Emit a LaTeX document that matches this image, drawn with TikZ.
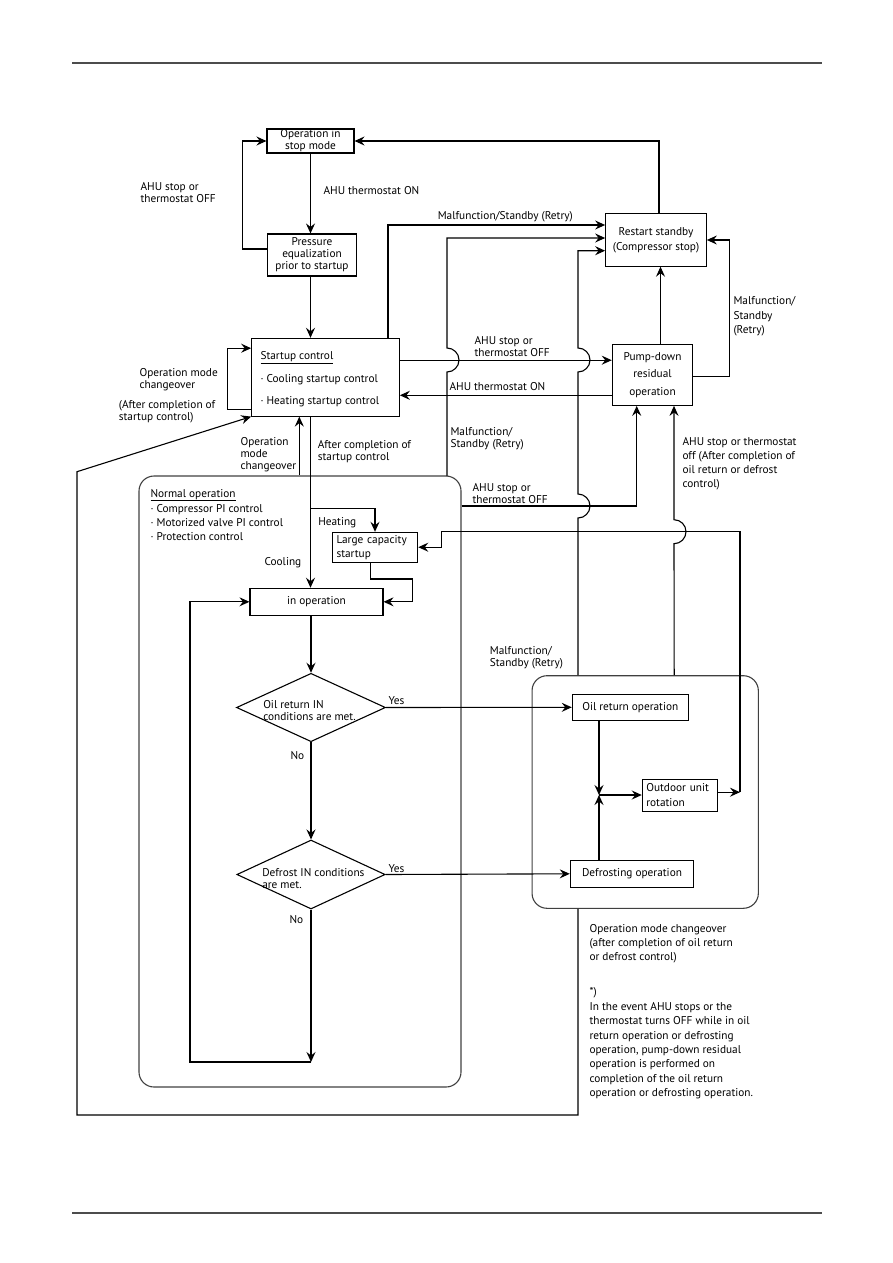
\documentclass[tikz,border=0pt]{standalone}
\usepackage{fontspec}
\setmainfont{PT Sans}
\usetikzlibrary{arrows.meta,shapes.geometric}

\begin{document}
\begin{tikzpicture}[x=1pt, y=-1pt, line width=1.1pt,
  every node/.style={font=\fontsize{11.3}{12}\selectfont, inner sep=0pt},
  box/.style={draw, rectangle, align=center},
  decision/.style={draw, diamond},
  group/.style={draw=black!75, rounded corners=15pt},
  arr/.style={-{Stealth[length=10pt, width=9pt, inset=3.5pt]}},
  lab/.style={align=left, anchor=west}]
\useasboundingbox (0,0) rectangle (893,1263);
\draw[black!70, line width=1.3pt] (72,63) -- (822,63);
\draw[black!70, line width=1.3pt] (72,1213) -- (822,1213);

\node[group, minimum width=322pt, minimum height=611pt] (norm) at (300,781.5) {};
\node[group, minimum width=226.3pt, minimum height=232.6pt] (ret) at (645.2,792) {};

\node[box, minimum width=87pt, minimum height=24pt] (stop) at (310.5,141) {Operation in\\stop mode};
\node[box, minimum width=88.4pt, minimum height=42pt] (pre) at (312,255) {Pressure\\equalization\\prior to startup};
\node[box, minimum width=100.6pt, minimum height=52.3pt] (restart) at (656,240) {Restart standby\\[3pt](Compressor stop)};
\node[box, minimum width=147.6pt, minimum height=77.7pt] (start) at (325.5,377.2) {};
\node[lab] (starttxt) at (260,379) {\underline{Startup control}\\[10pt]· Cooling startup control\\[10pt]· Heating startup control};
\node[box, minimum width=80.4pt, minimum height=61pt] (pump) at (652.5,374.8) {Pump-down\\[5.5pt]residual\\[5.5pt]operation};
\node[box, align=left, text width=77pt, inner xsep=4.2pt, minimum height=29.7pt] (large) at (375,547.2) {Large capacity\\[2pt]startup};
\node[box, minimum width=133pt, minimum height=27pt] (inop) at (316.5,601.8) {in operation};
\node[decision, minimum width=149pt, minimum height=68.4pt] (d1) at (311,707.5) {};
\node[lab] (d1txt) at (262.7,710.8) {Oil return IN\\conditions are met.};
\node[decision, minimum width=148.3pt, minimum height=69pt] (d2) at (311,874.5) {};
\node[lab] (d2txt) at (261.7,878.2) {Defrost IN conditions\\are met.};
\node[box, minimum width=116pt, minimum height=26pt] (oilr) at (630.3,707.3) {Oil return operation};
\node[box, minimum width=123.4pt, minimum height=27pt] (defr) at (632,873.8) {Defrosting operation};
\node[box, align=left, text width=67pt, inner xsep=4pt, minimum height=31.7pt] (outd) at (679.8,795.2) {Outdoor unit\\[2.5pt]rotation};

\coordinate (split) at (310.5,508.3);
\coordinate (jn) at (599,795);
\coordinate (rot) at (740,792.2);
\coordinate (loopend) at (311,1062);

\draw[arr] (stop.south) -- (stop.south |- pre.north);
\draw[arr] ([yshift=6pt]pre.west) -- ++(-25,0) |- (stop.west);
\draw[arr] (stop.south |- pre.south) -- (stop.south |- start.north);
\draw[arr] ([xshift=3pt]restart.north) |- (stop.east);
\draw[arr] ([xshift=62.5pt]start.north) |- ([yshift=15pt]restart.west);
\draw[arr] (447,476) -- (447,372) arc (90:-90:12) |- ([yshift=2pt]restart.west);
\draw[arr] ([xshift=-67.2pt]ret.north) -- (578,518) arc (90:-90:12) -- (578,372) arc (90:-90:12) |- ([yshift=-10.7pt]restart.west);
\draw[arr] ([yshift=17pt]start.east) -- ([yshift=17pt]start.east -| pump.west);
\draw[arr] ([yshift=-20.5pt]pump.west) -- ([yshift=-20.5pt]pump.west -| start.east);
\draw[arr] ([xshift=8pt]pump.north) -- ([xshift=8pt]pump.north |- restart.south);
\draw[arr] ([yshift=-2pt]pump.east) -- ++(36.6,0) |- (restart.east);
\draw[arr] ([yshift=-32pt]start.west) -- ++(-23.4,0) |- ([yshift=29pt]start.west);
\draw[arr] ([xshift=-0.7pt]norm.north) -- ([xshift=-26.2pt]start.south);
\draw[arr] ([xshift=-15pt]start.south) -- ([xshift=-6pt]inop.north);
\draw[arr] (split) -| (large.north);
\draw[arr] ([xshift=-4.3pt]large.south) |- (412.3,579) |- (inop.east);
\draw[arr] ([yshift=275.5pt]norm.east) -| ([xshift=-15.8pt]pump.south);
\draw[arr] ([xshift=29pt]ret.north) -- (674,543.7) arc (90:-90:12) -- ([xshift=21.5pt]pump.south);
\draw[arr] ([yshift=3pt]outd.east) -- (rot);
\draw[arr] (rot) |- (441.7,531.7) |- (large.east);
\draw[arr] (d1.north |- inop.south) -- (d1.north);
\draw[arr] (d1.east) -- (oilr.west);
\draw[arr] (d1.south) -- (d2.north);
\draw[arr] (d2.east) -- (defr.west);
\draw[arr] (d2.south) -- (loopend);
\draw[arr] (loopend) -- (190,1062) |- (inop.west);
\draw[arr] ([xshift=-31.3pt]oilr.south) -- (jn);
\draw[arr] ([xshift=-33pt]defr.north) -- (jn);
\draw[arr] (jn) -- (jn -| outd.west);
\draw[arr] ([xshift=-67.2pt]ret.south) |- (77,1115) -- (77,471.7) -- (start.south west);

\node[lab] (l1) at (323,190.7) {AHU thermostat ON};
\node[lab] (l2) at (140,193) {AHU stop or\\thermostat OFF};
\node (l3) at (505.3,216.7) {Malfunction/Standby (Retry)};
\node[lab] (l4) at (474,346.5) {AHU stop or\\thermostat OFF};
\node[lab] (l5) at (449,386.7) {AHU thermostat ON};
\node[lab] (l6) at (733,316.5) {Malfunction/\\[2.5pt]Standby\\[2.5pt](Retry)};
\node[lab] (l7) at (139,379.5) {Operation mode\\changeover};
\node[lab] (l8) at (118.3,412) {(After completion of\\startup control)};
\node[lab] (l9) at (450,438.3) {Malfunction/\\Standby (Retry)};
\node[lab] (l10) at (682,463.4) {AHU stop or thermostat\\[2pt]off (After completion of\\[2pt]oil return or defrost\\[2pt]control)};
\node[lab] (l11) at (240,454.7) {Operation\\mode\\changeover};
\node[lab] (l12) at (317.3,452) {After completion of\\startup control};
\node[lab] (l13) at (472,493.4) {AHU stop or\\thermostat OFF};
\node[lab] (l14) at (150,514.7) {\underline{Normal operation}\\[2pt]· Compressor PI control\\[2pt]· Motorized valve PI control\\[2pt]· Protection control};
\node[lab] (l15) at (317.7,522.7) {Heating};
\node[lab] (l16) at (264,562.3) {Cooling};
\node[lab] (l17) at (489.3,658) {Malfunction/\\Standby (Retry)};
\node[lab] (l18) at (388,701) {Yes};
\node[lab] (l19) at (290,755.7) {No};
\node[lab] (l20) at (388,868.3) {Yes};
\node[lab] (l21) at (289,919.3) {No};
\node[lab] (l22) at (589,944) {Operation mode changeover\\[2pt](after completion of oil return\\[2pt]or defrost control)};
\node[lab] (l23) at (589,1043.5) {*)\\[2.4pt]In the event AHU stops or the\\[2.4pt]thermostat turns OFF while in oil\\[2.4pt]return operation or defrosting\\[2.4pt]operation, pump-down residual\\[2.4pt]operation is performed on\\[2.4pt]completion of the oil return\\[2.4pt]operation or defrosting operation.};
\end{tikzpicture}
\end{document}
